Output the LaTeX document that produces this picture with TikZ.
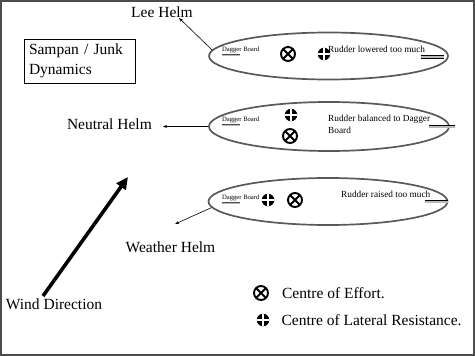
\documentclass[tikz,border=0pt]{standalone}
\usepackage{fontspec}
\setmainfont{Liberation Serif}
\usetikzlibrary{positioning, arrows.meta, shapes.geometric}

\begin{document}
\begin{tikzpicture}[x=1pt, y=-1pt,
  boat/.style={ellipse, draw=gray!70!black, line width=1.7pt,
               minimum width=239pt, minimum height=47pt, inner sep=0pt},
  helm/.style={font=\fontsize{15.5}{20}\selectfont, inner sep=1pt},
  note/.style={font=\fontsize{9.3}{12}\selectfont, align=left, inner sep=0pt, anchor=west},
  board/.style={font=\fontsize{6.6}{8}\selectfont, inner sep=0pt, anchor=west},
  effort/.style={circle, draw=black, line width=1.9pt, minimum size=14pt, inner sep=0pt,
                 path picture={\draw[line width=1.9pt]
                   (path picture bounding box.north west) -- (path picture bounding box.south east)
                   (path picture bounding box.north east) -- (path picture bounding box.south west);}},
  resist/.style={circle, fill=black, minimum size=12.5pt, inner sep=0pt,
                 path picture={\draw[white, line width=1.1pt]
                   (path picture bounding box.north) -- (path picture bounding box.south)
                   (path picture bounding box.east) -- (path picture bounding box.west);}},
  rudder/.style={double=gray!55, double distance=2pt, line width=0.8pt},
  keel/.style={double=gray!55, double distance=0.8pt, line width=0.5pt, draw=gray!60!black},
  arr/.style={-{Stealth[length=4pt, width=3pt]}, line width=0.6pt},
  windarr/.style={-{Triangle[length=12pt, width=11pt]}, line width=3.6pt},
]
  \useasboundingbox (0,0) rectangle (475,356);
  \draw[gray!60!black, line width=2pt] (1,1) rectangle (474,355);

  \node[draw, line width=0.6pt, text width=101pt, inner sep=5pt, minimum height=43pt,
        align=left, font=\fontsize{15.5}{20}\selectfont] (title) at (79.5,61) {Sampan / Junk\\Dynamics};

  \node[boat] (leeboat) at (328.5,56) {};
  \node[boat, minimum height=49pt, minimum width=240pt] (neutralboat) at (329,126.5) {};
  \node[boat] (weatherboat) at (328,201.5) {};

  \node[board] (leedagger) at (222,50) {Dagger Board};
  \node[effort] (leeeffort) at (288,54) {};
  \node[resist] (leeresist) at (324,54) {};
  \node[note] (leenote) at (328,49) {Rudder lowered too much};

  \node[board] (neutraldagger) at (222,120) {Dagger Board};
  \node[resist] (neutralresist) at (291,115) {};
  \node[effort] (neutraleffort) at (290,136) {};
  \node[note] (neutralnote) at (328,124) {Rudder balanced to Dagger\\Board};

  \node[board] (weatherdagger) at (222,198) {Dagger Board};
  \node[resist] (weatherresist) at (268,200) {};
  \node[effort] (weathereffort) at (295,200) {};
  \node[note] (weathernote) at (341,194) {Rudder raised too much};

  \draw[keel] ([yshift=-2pt]leedagger.south west) -- ++(18,0);
  \draw[keel] ([yshift=-2pt]neutraldagger.south west) -- ++(18,0);
  \draw[keel] ([yshift=-2pt]weatherdagger.south west) -- ++(18,0);
  \draw[rudder] ([xshift=-28pt, yshift=-1pt]leeboat.east) -- ++(23,0);
  \draw[rudder] ([xshift=-21pt]neutralboat.east) -- ++(26,0);
  \draw[rudder] ([xshift=-23pt]weatherboat.east) -- ++(23,0);

  \node[helm] (leelabel) at (162,12) {Lee Helm};
  \node[helm, anchor=east] (neutrallabel) at (153,124) {Neutral Helm};
  \node[helm] (weatherlabel) at (170.5,247) {Weather Helm};
  \node[helm] (windlabel) at (54,304) {Wind Direction};

  \coordinate (leetip) at (179,18);
  \coordinate (neutraltip) at (163,126.5);
  \coordinate (weathertip) at (175,224);
  \coordinate (windtail) at (43,296);
  \coordinate (windtip) at (128,177);

  \draw[arr] (leeboat.177) -- (leetip);
  \draw[arr] (neutralboat.west) -- (neutraltip);
  \draw[arr] (weatherboat.183) -- (weathertip);
  \draw[windarr] (windtail) -- (windtip);

  \node[effort] (keyeffort) at (261,293) {};
  \node[helm, right=12pt of keyeffort] (keyeffortlabel) {Centre of Effort.};
  \node[resist] (keyresist) at (263,320) {};
  \node[helm, right=11pt of keyresist] (keyresistlabel) {Centre of Lateral Resistance.};
\end{tikzpicture}
\end{document}
